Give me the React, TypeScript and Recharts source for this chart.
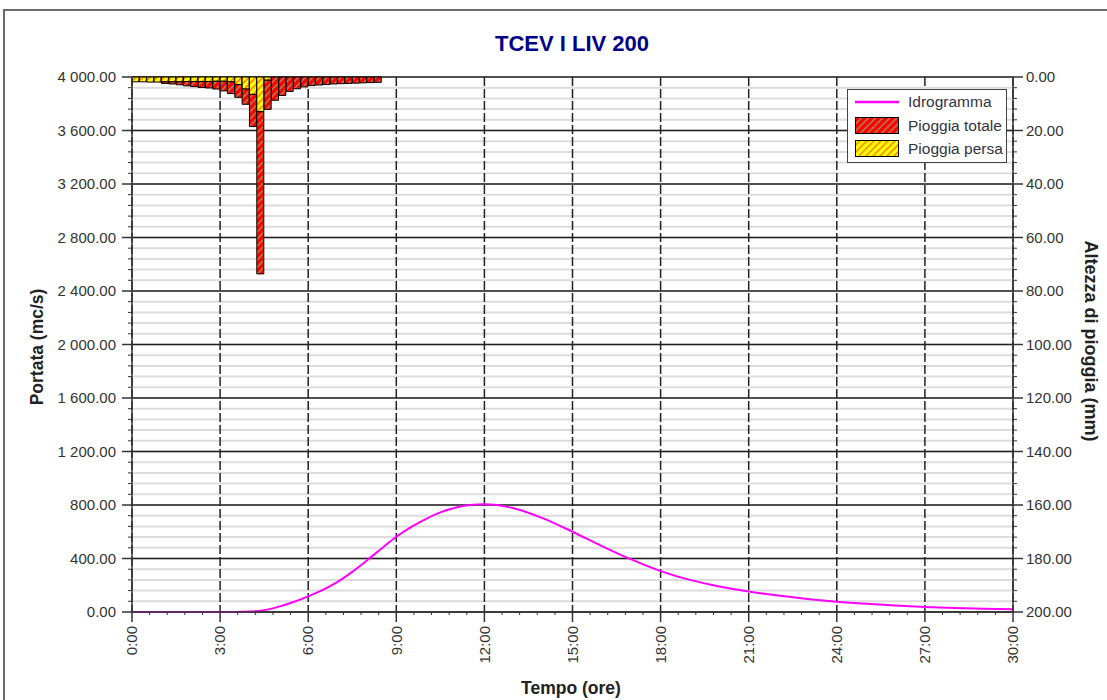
import React from 'react';
import { ComposedChart, Bar, Line, XAxis, YAxis, CartesianGrid } from 'recharts';

// Hydrograph: time in hours, discharge in mc/s
const HYDRO_TIME = [0, 1, 2, 3, 3.5, 4, 4.5, 5, 5.5, 6, 6.5, 7, 7.5, 8, 8.5, 9, 9.5, 10, 10.5, 11, 11.5, 12, 13, 14, 15, 16, 17, 18, 19, 20, 21, 22, 23, 24, 25, 26, 27, 28, 29, 30];
const HYDRO_FLOW = [0, 0, 0, 0, 0, 3, 14, 40, 75, 117, 165, 225, 300, 385, 475, 563, 635, 695, 745, 780, 800, 806, 776, 700, 600, 493, 393, 306, 240, 191, 154, 123, 98, 77, 61, 48, 38, 30, 25, 21];

// Hyetograph, 15-minute blocks starting at 0:00 (mm per block)
const RAIN_STEP_H = 0.25;
const RAIN_TOTAL = [1.8, 1.8, 1.9, 1.9, 2.4, 2.6, 2.9, 3.3, 3.6, 3.9, 4.1, 4.5, 5.2, 6.2, 7.6, 10.2, 18.5, 73.6, 12.1, 8.7, 6.9, 5.4, 4.4, 3.7, 3.2, 3.0, 2.8, 2.6, 2.5, 2.4, 2.3, 2.2, 2.1, 2.0];
const RAIN_LOST = [1.8, 1.8, 1.9, 1.9, 1.8, 1.8, 1.8, 1.7, 1.7, 1.7, 1.7, 1.6, 1.6, 1.8, 2.8, 4.5, 6.5, 13.0, 1.2, 0, 0, 0, 0, 0, 0, 0, 0, 0, 0, 0, 0, 0, 0, 0];

const TIME_TICKS = [0, 3, 6, 9, 12, 15, 18, 21, 24, 27, 30];
const FLOW_TICKS = [0, 400, 800, 1200, 1600, 2000, 2400, 2800, 3200, 3600, 4000];
const RAIN_TICKS = [0, 20, 40, 60, 80, 100, 120, 140, 160, 180, 200];

// five subdivisions between labelled ticks
const TIME_MINOR = Array.from({ length: 51 }, (_, i) => +(i * 0.6).toFixed(1));
const FLOW_MINOR = Array.from({ length: 51 }, (_, i) => i * 80);
const RAIN_MINOR = Array.from({ length: 51 }, (_, i) => i * 4);

const hydroData = HYDRO_TIME.map((t, i) => ({ t, q: HYDRO_FLOW[i] }));
const rainData = RAIN_TOTAL.map((tot, i) => ({
  t: (i + 0.5) * RAIN_STEP_H,
  lost: RAIN_LOST[i],
  net: +(tot - RAIN_LOST[i]).toFixed(2),
}));

const FONT = '"Liberation Sans", Arial, sans-serif';
const INK = '#333';

const isMultiple = (v: number, step: number) => Math.abs(v / step - Math.round(v / step)) < 1e-6;

const fmtFlow = (v: number) => {
  const [int, dec] = v.toFixed(2).split('.');
  return int.replace(/\B(?=(\d{3})+(?!\d))/g, ' ') + '.' + dec;
};

const TimeTick = ({ x, y, payload }: any) => {
  const major = isMultiple(payload.value, 3);
  return (
    <g>
      <line x1={x} x2={x} y1={y} y2={y + (major ? 10 : 3)} stroke={INK} strokeWidth={major ? 1.5 : 1} />
      {major && (
        <text
          x={x}
          y={y + 14}
          transform={`rotate(-90 ${x} ${y + 14})`}
          textAnchor="end"
          dy="0.35em"
          fill={INK}
          fontSize={15}
          fontFamily={FONT}
        >
          {`${payload.value}:00`}
        </text>
      )}
    </g>
  );
};

const FlowTick = ({ x, y, payload }: any) => {
  const major = isMultiple(payload.value, 400);
  return (
    <g>
      <line x1={x} x2={x - (major ? 10 : 4)} y1={y} y2={y} stroke={INK} strokeWidth={major ? 1.5 : 1} />
      {major && (
        <text x={x - 16} y={y} dy="0.35em" textAnchor="end" fill={INK} fontSize={15} fontFamily={FONT}>
          {fmtFlow(payload.value)}
        </text>
      )}
    </g>
  );
};

const RainTick = ({ x, y, payload }: any) => {
  const major = isMultiple(payload.value, 20);
  return (
    <g>
      <line x1={x} x2={x + (major ? 10 : 4)} y1={y} y2={y} stroke={INK} strokeWidth={major ? 1.5 : 1} />
      {major && (
        <text x={x + 13} y={y} dy="0.35em" textAnchor="start" fill={INK} fontSize={15} fontFamily={FONT}>
          {payload.value.toFixed(2)}
        </text>
      )}
    </g>
  );
};

const Hatch = ({ id, bg, fg }: { id: string; bg: string; fg: string }) => (
  <pattern id={id} patternUnits="userSpaceOnUse" width="5" height="5" patternTransform="rotate(45)">
    <rect width="5" height="5" fill={bg} />
    <rect width="1.3" height="5" fill={fg} />
  </pattern>
);

const LegendBox = () => (
  <svg width={160} height={74} style={{ position: 'absolute', left: 847, top: 89 }}>
    <defs>
      <Hatch id="legRed" bg="#ff0000" fg="#9c9c66" />
      <Hatch id="legYellow" bg="#ffff00" fg="#ff6a00" />
    </defs>
    <rect x={0.5} y={0.5} width={159} height={73} fill="#fff" stroke="#444" />
    <line x1={8} x2={52} y1={13} y2={13} stroke="#ff00ff" strokeWidth={2.5} />
    <rect x={8.5} y={28.5} width={43} height={16} fill="url(#legRed)" stroke="#000" />
    <rect x={8.5} y={51.5} width={43} height={16} fill="url(#legYellow)" stroke="#000" />
    <g fontFamily={FONT} fontSize={15.5} fill="#334">
      <text x={61} y={18}>Idrogramma</text>
      <text x={61} y={42}>Pioggia totale</text>
      <text x={61} y={65}>Pioggia persa</text>
    </g>
  </svg>
);

const axisLine = { stroke: INK, strokeWidth: 1.5 };

export default function App() {
  return (
    <div
      style={{
        position: 'fixed',
        left: 0,
        top: 0,
        width: 1107,
        height: 700,
        overflow: 'hidden',
        background: '#fff',
        fontFamily: FONT,
      }}
    >
      <div
        style={{
          position: 'absolute',
          left: 3,
          top: 9,
          width: 1300,
          height: 900,
          borderLeft: '2px solid #6a6a6a',
          borderTop: '2px solid #6a6a6a',
        }}
      />
      <div style={{ position: 'absolute', left: 0, top: 0 }}>
        <ComposedChart
          width={1107}
          height={700}
          data={rainData}
          margin={{ top: 77, right: 0, bottom: 0, left: 0 }}
          barCategoryGap={0}
        >
          <defs>
            <Hatch id="hatchRed" bg="#ff0000" fg="#9c9c66" />
            <Hatch id="hatchYellow" bg="#ffff00" fg="#ff6a00" />
          </defs>

          <XAxis
            xAxisId="t"
            dataKey="t"
            type="number"
            domain={[0, 30]}
            ticks={TIME_MINOR}
            interval={0}
            tick={<TimeTick />}
            tickLine={false}
            tickSize={0}
            tickMargin={0}
            axisLine={axisLine}
            height={88}
          />
          {/* same time scale, used only to place the rain blocks */}
          <XAxis xAxisId="bar" dataKey="t" type="number" domain={[0, 30]} hide height={0} />
          <YAxis
            yAxisId="q"
            type="number"
            domain={[0, 4000]}
            ticks={FLOW_MINOR}
            interval={0}
            tick={<FlowTick />}
            tickLine={false}
            tickSize={0}
            tickMargin={0}
            axisLine={axisLine}
            width={132}
          />
          <YAxis
            yAxisId="rain"
            orientation="right"
            type="number"
            domain={[0, 200]}
            reversed
            ticks={RAIN_MINOR}
            interval={0}
            tick={<RainTick />}
            tickLine={false}
            tickSize={0}
            tickMargin={0}
            axisLine={axisLine}
            width={94}
          />

          <CartesianGrid
            xAxisId="t"
            yAxisId="q"
            vertical={false}
            horizontalValues={FLOW_MINOR}
            stroke="#dcdcdc"
            strokeWidth={2}
          />
          <CartesianGrid
            xAxisId="t"
            yAxisId="q"
            vertical={false}
            horizontalValues={FLOW_TICKS}
            stroke="#222"
            strokeWidth={1.5}
          />
          <CartesianGrid
            xAxisId="t"
            yAxisId="q"
            horizontal={false}
            verticalValues={TIME_TICKS}
            stroke="#222"
            strokeWidth={1.5}
            strokeDasharray="9 3"
          />

          <Bar
            xAxisId="bar"
            yAxisId="rain"
            dataKey="lost"
            stackId="rain"
            fill="url(#hatchYellow)"
            stroke="#000"
            strokeWidth={1}
            isAnimationActive={false}
          />
          <Bar
            xAxisId="bar"
            yAxisId="rain"
            dataKey="net"
            stackId="rain"
            fill="url(#hatchRed)"
            stroke="#000"
            strokeWidth={1}
            isAnimationActive={false}
          />
          <Line
            xAxisId="t"
            yAxisId="q"
            data={hydroData}
            dataKey="q"
            type="monotone"
            stroke="#ff00ff"
            strokeWidth={2}
            dot={false}
            isAnimationActive={false}
          />
        </ComposedChart>
      </div>

      <div
        style={{
          position: 'absolute',
          left: 572,
          top: 44,
          transform: 'translate(-50%, -50%)',
          color: '#000088',
          fontWeight: 'bold',
          fontSize: 22,
          whiteSpace: 'nowrap',
        }}
      >
        TCEV I LIV 200
      </div>
      <div
        style={{
          position: 'absolute',
          left: 37,
          top: 347,
          transform: 'translate(-50%, -50%) rotate(-90deg)',
          fontWeight: 'bold',
          fontSize: 17.5,
          color: '#222',
          whiteSpace: 'nowrap',
        }}
      >
        Portata (mc/s)
      </div>
      <div
        style={{
          position: 'absolute',
          left: 1090,
          top: 341,
          transform: 'translate(-50%, -50%) rotate(90deg)',
          fontWeight: 'bold',
          fontSize: 18,
          color: '#222',
          whiteSpace: 'nowrap',
        }}
      >
        Altezza di pioggia (mm)
      </div>
      <div
        style={{
          position: 'absolute',
          left: 571,
          top: 688,
          transform: 'translate(-50%, -50%)',
          fontWeight: 'bold',
          fontSize: 17.5,
          color: '#222',
          whiteSpace: 'nowrap',
        }}
      >
        Tempo (ore)
      </div>

      <LegendBox />
    </div>
  );
}
